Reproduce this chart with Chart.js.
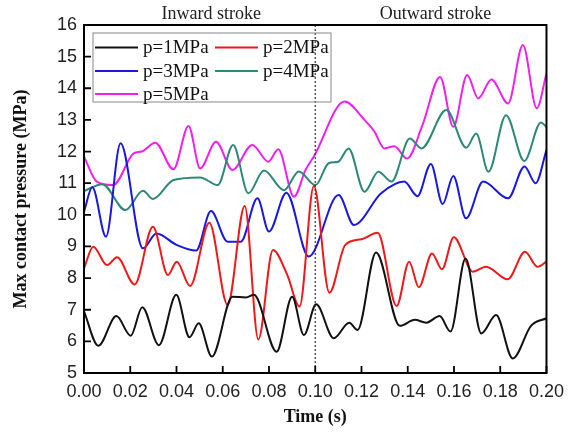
<!DOCTYPE html>
<html>
<head>
<meta charset="utf-8">
<script src="https://cdn.jsdelivr.net/npm/chart.js@4.4.1/dist/chart.umd.min.js"></script>
<style>
  html, body { margin: 0; padding: 0; background: #fff; }
  #wrap { width: 572px; height: 436px; position: relative; }
</style>
</head>
<body>
<div id="wrap"><canvas id="c" width="572" height="436"></canvas></div>
<script>
// ---- data ----
const seriesLabels = ['p=1MPa', 'p=2MPa', 'p=3MPa', 'p=4MPa', 'p=5MPa'];
const seriesColors = ['#111111', '#f01818', '#1818e0', '#2e8878', '#f020f0'];

const t1 = [0, 0.0062, 0.014, 0.0202, 0.0252, 0.0324, 0.0399, 0.0456, 0.0496, 0.0553, 0.0642, 0.070, 0.0735, 0.0833, 0.090, 0.0951, 0.1004, 0.108, 0.1147, 0.1183, 0.1263, 0.1366, 0.1431, 0.148, 0.1538, 0.1585, 0.165, 0.1718, 0.1782, 0.1854, 0.1933, 0.2];
const v1 = [6.95, 5.86, 6.80, 6.18, 7.08, 5.88, 7.47, 6.13, 6.57, 5.52, 7.41, 7.39, 7.47, 5.67, 7.41, 6.20, 7.17, 6.10, 6.59, 6.36, 8.81, 6.49, 6.68, 6.59, 6.80, 6.31, 8.62, 6.25, 6.83, 5.46, 6.49, 6.73];

const t2 = [0, 0.004, 0.010, 0.0143, 0.0219, 0.0298, 0.0363, 0.0401, 0.0459, 0.0542, 0.0621, 0.0695, 0.0754, 0.0817, 0.0879, 0.0932, 0.0994, 0.1061, 0.113, 0.1201, 0.127, 0.1352, 0.1406, 0.1448, 0.1505, 0.1548, 0.1599, 0.1682, 0.1739, 0.1832, 0.1907, 0.1961, 0.2];
const v2 = [8.31, 8.99, 8.41, 8.66, 7.80, 9.62, 8.10, 8.52, 7.75, 9.75, 7.15, 10.28, 6.06, 8.89, 8.10, 7.10, 10.91, 7.54, 9.05, 9.23, 9.43, 7.12, 8.52, 7.71, 8.78, 8.28, 9.29, 8.20, 8.36, 7.96, 8.83, 8.36, 8.52];

const t3 = [0, 0.0036, 0.0095, 0.0158, 0.0255, 0.0313, 0.040, 0.0485, 0.0549, 0.0621, 0.0678, 0.075, 0.080, 0.0875, 0.0972, 0.1101, 0.1167, 0.1285, 0.1385, 0.1442, 0.150, 0.1551, 0.1597, 0.1652, 0.1726, 0.1834, 0.1905, 0.1953, 0.2];
const v3 = [10.10, 10.87, 9.31, 12.26, 8.94, 9.41, 9.05, 8.87, 10.12, 9.15, 9.15, 10.52, 9.47, 10.70, 8.68, 10.63, 9.68, 10.68, 11.05, 10.59, 11.61, 10.34, 11.23, 9.89, 11.05, 10.52, 11.53, 11.00, 12.05];

const t4 = [0, 0.0079, 0.0179, 0.0255, 0.0298, 0.0387, 0.0502, 0.0578, 0.0645, 0.0711, 0.0778, 0.0865, 0.0929, 0.1001, 0.1058, 0.110, 0.1144, 0.1213, 0.1273, 0.133, 0.1409, 0.1459, 0.1567, 0.1653, 0.1696, 0.1749, 0.1825, 0.1904, 0.1976, 0.2];
const v4 = [10.75, 10.97, 10.15, 10.76, 10.50, 11.10, 11.18, 10.94, 12.21, 10.68, 11.40, 10.78, 11.37, 10.94, 11.63, 11.68, 12.10, 10.73, 11.36, 11.05, 12.41, 12.10, 13.31, 12.12, 12.57, 11.36, 13.15, 11.70, 12.92, 12.78];

const t5 = [0, 0.0055, 0.0126, 0.0215, 0.025, 0.0308, 0.0387, 0.0452, 0.0502, 0.0571, 0.0642, 0.0728, 0.0797, 0.084, 0.0908, 0.0958, 0.0994, 0.1127, 0.1213, 0.1256, 0.1299, 0.1342, 0.1397, 0.1464, 0.154, 0.1597, 0.1657, 0.1705, 0.1762, 0.1834, 0.1898, 0.1958, 0.2];
const v5 = [11.84, 11.05, 10.94, 11.94, 12.00, 12.28, 11.44, 12.81, 11.47, 12.31, 11.42, 12.21, 11.68, 12.07, 10.57, 11.42, 11.84, 13.58, 13.00, 12.63, 12.10, 12.17, 11.78, 12.84, 14.36, 12.78, 14.42, 13.68, 14.28, 13.52, 15.37, 13.37, 14.47];

const xTicksMin = 0, xTicksMax = 0.2, xStep = 0.02;
const yTicksMin = 5, yTicksMax = 16, yStep = 1;
const strokeMarker = 0.10;
const strokeLabels = [{ text: 'Inward stroke', at: 0.055 }, { text: 'Outward stroke', at: 0.152 }];

// ---- build datasets ----
const times = [t1, t2, t3, t4, t5];
const values = [v1, v2, v3, v4, v5];
const datasets = seriesLabels.map((lab, i) => ({
  label: lab,
  data: times[i].map((x, k) => ({ x: x, y: values[i][k] })),
  borderColor: seriesColors[i],
  backgroundColor: seriesColors[i],
  borderWidth: 2,
  pointRadius: 0,
  fill: false,
  cubicInterpolationMode: 'monotone'
}));

const SERIF = '"Liberation Serif", "Times New Roman", serif';
const SANS = '"Liberation Sans", Arial, sans-serif';

const decor = {
  id: 'decor',
  afterDatasetsDraw(chart) {
    const { ctx, chartArea: a, scales: { x, y } } = chart;
    ctx.save();
    // dotted marker line
    const xm = x.getPixelForValue(strokeMarker);
    ctx.strokeStyle = '#333';
    ctx.lineWidth = 1.2;
    ctx.setLineDash([2, 2]);
    ctx.beginPath();
    ctx.moveTo(xm, a.top);
    ctx.lineTo(xm, a.bottom);
    ctx.stroke();
    ctx.setLineDash([]);

    // frame
    ctx.strokeStyle = '#000';
    ctx.lineWidth = 2;
    ctx.strokeRect(a.left, a.top, a.right - a.left, a.bottom - a.top);

    // inward ticks
    ctx.lineWidth = 1.8;
    ctx.beginPath();
    x.ticks.forEach(tk => {
      const px = x.getPixelForValue(tk.value);
      ctx.moveTo(px, a.bottom);
      ctx.lineTo(px, a.bottom - 7);
    });
    y.ticks.forEach(tk => {
      const py = y.getPixelForValue(tk.value);
      ctx.moveTo(a.left, py);
      ctx.lineTo(a.left + 7, py);
    });
    ctx.stroke();

    // legend box
    const lx = a.left + 9, ly = a.top + 8, lw = 238, lh = 69;
    ctx.strokeStyle = '#888';
    ctx.lineWidth = 1;
    ctx.strokeRect(lx, ly, lw, lh);
    const cols = [lx + 2, lx + 122];
    const rows = [ly + 14.5, ly + 38, ly + 61];
    ctx.font = '19px ' + SERIF;
    ctx.textBaseline = 'middle';
    ctx.textAlign = 'left';
    seriesLabels.forEach((lab, i) => {
      const cx = cols[i % 2], cy = rows[Math.floor(i / 2)];
      ctx.strokeStyle = seriesColors[i];
      ctx.lineWidth = 2;
      ctx.beginPath();
      ctx.moveTo(cx, cy);
      ctx.lineTo(cx + 43, cy);
      ctx.stroke();
      ctx.fillStyle = '#111';
      ctx.fillText(lab, cx + 48, cy + 1);
    });

    // stroke labels
    ctx.font = '18px ' + SERIF;
    ctx.textAlign = 'center';
    ctx.fillStyle = '#222';
    strokeLabels.forEach(s => {
      ctx.fillText(s.text, x.getPixelForValue(s.at), a.top - 11);
    });
    ctx.restore();
  }
};

new Chart(document.getElementById('c'), {
  type: 'line',
  data: { datasets: datasets },
  plugins: [decor],
  options: {
    responsive: false,
    animation: false,
    layout: { padding: { top: 25, right: 23, left: 0, bottom: 0 } },
    plugins: { legend: { display: false }, tooltip: { enabled: false } },
    scales: {
      x: {
        type: 'linear',
        min: xTicksMin, max: xTicksMax,
        grid: { display: false, drawTicks: false },
        border: { display: false },
        ticks: {
          stepSize: xStep,
          padding: 8,
          color: '#222',
          font: { family: SANS, size: 18 },
          maxRotation: 0,
          callback: v => Number(v).toFixed(2)
        },
        title: {
          display: true, text: 'Time (s)', color: '#111',
          font: { family: SERIF, size: 18, weight: 'bold' },
          padding: { top: 0, bottom: 8 }
        },
        afterFit: s => { s.height = 63; }
      },
      y: {
        type: 'linear',
        min: yTicksMin, max: yTicksMax,
        grid: { display: false, drawTicks: false },
        border: { display: false },
        ticks: {
          stepSize: yStep,
          padding: 7,
          color: '#222',
          font: { family: SANS, size: 18 }
        },
        title: {
          display: true, text: 'Max contact pressure (MPa)', color: '#111',
          font: { family: SERIF, size: 18, weight: 'bold' },
          padding: { top: 11, bottom: 0 }
        },
        afterFit: s => { s.width = 84; }
      }
    }
  }
});
</script>
</body>
</html>
